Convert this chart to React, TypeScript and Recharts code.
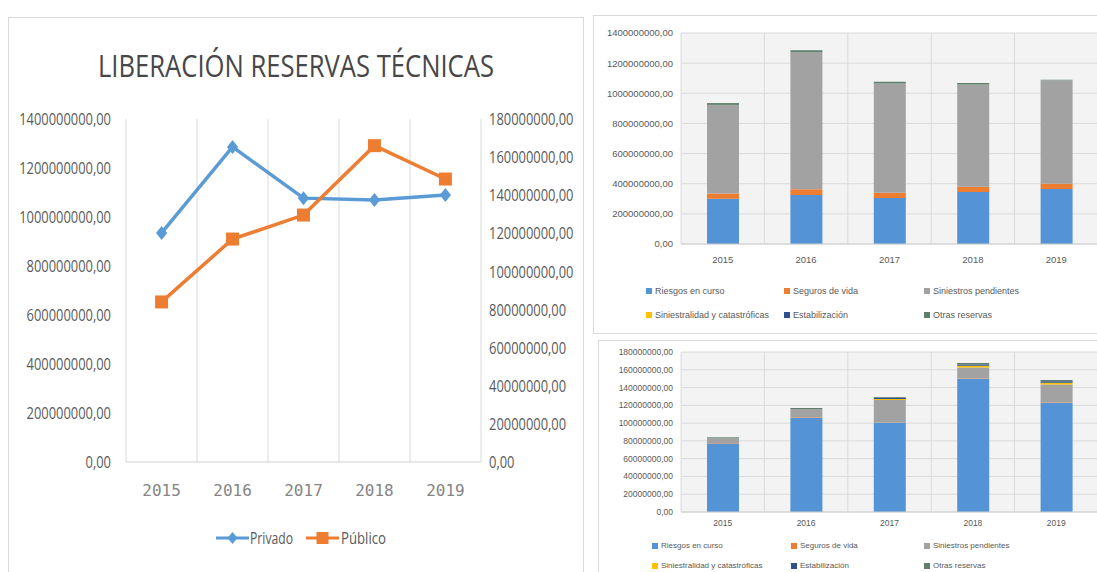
import React from "react";
import {
  LineChart,
  Line,
  BarChart,
  Bar,
  XAxis,
  YAxis,
  CartesianGrid,
} from "recharts";

const years = ["2015", "2016", "2017", "2018", "2019"];

// line chart, left axis (privado) and right axis (publico)
const privado = [935e6, 1286e6, 1077e6, 1069e6, 1090e6];
const publico = [84e6, 117e6, 129.6e6, 166e6, 148.5e6];
const leftTicks = [0, 200e6, 400e6, 600e6, 800e6, 1000e6, 1200e6, 1400e6];
const rightTicks = [0, 20e6, 40e6, 60e6, 80e6, 100e6, 120e6, 140e6, 160e6, 180e6];

// stacked bars, sector privado
const riesgosPriv = [300e6, 325e6, 305e6, 345e6, 365e6];
const segurosPriv = [35e6, 38e6, 35e6, 35e6, 35e6];
const siniestrosPriv = [588e6, 910e6, 725e6, 678e6, 686e6];
const catastPriv = [0, 0, 0, 0, 0];
const estabPriv = [0, 0, 0, 0, 0];
const otrasPriv = [12e6, 13e6, 12e6, 11e6, 4e6];

// stacked bars, sector publico
const riesgosPub = [77e6, 106e6, 100e6, 150e6, 123e6];
const segurosPub = [0.5e6, 0.5e6, 0.5e6, 0.5e6, 0.5e6];
const siniestrosPub = [5.5e6, 9.5e6, 25.5e6, 12e6, 20e6];
const catastPub = [0, 0, 1e6, 2e6, 2e6];
const estabPub = [0, 0, 1.5e6, 1.5e6, 1.5e6];
const otrasPub = [1e6, 1e6, 1e6, 1.5e6, 1.5e6];

const stackNames = [
  "Riesgos en curso",
  "Seguros de vida",
  "Siniestros pendientes",
  "Siniestralidad y catastróficas",
  "Estabilización",
  "Otras reservas",
];
const stackKeys = ["riesgos", "seguros", "siniestros", "catast", "estab", "otras"];
const stackColors = ["#5593d7", "#ED7D31", "#a2a2a2", "#FFC000", "#2f4f8f", "#5e7f6b"];

const lineData = years.map((y, i) => ({ year: y, privado: privado[i], publico: publico[i] }));

const makeStack = (arrs: number[][]) =>
  years.map((y, i) => {
    const row: any = { year: y };
    stackKeys.forEach((k, j) => (row[k] = arrs[j][i]));
    return row;
  });

const privData = makeStack([riesgosPriv, segurosPriv, siniestrosPriv, catastPriv, estabPriv, otrasPriv]);
const pubData = makeStack([riesgosPub, segurosPub, siniestrosPub, catastPub, estabPub, otrasPub]);

const fmt = (v: number) => v.toFixed(2).replace(".", ",");

const sans = "'Open Sans', sans-serif";
const textGray = "#595959";

const bandLines = ({ offset }: any) => {
  const step = offset.width / years.length;
  return Array.from({ length: years.length + 1 }, (_, i) => offset.left + i * step);
};

// condensed look: squeeze the glyphs horizontally
const NarrowTick = (p: any) => {
  const { x, y, payload, anchor } = p;
  return (
    <g transform={`translate(${x},${y}) scale(0.76,1)`}>
      <text x={0} y={0} dy="0.36em" textAnchor={anchor} fill={textGray} fontSize={17} fontFamily={sans}>
        {fmt(payload.value)}
      </text>
    </g>
  );
};

const Diamond = (p: any) => {
  const { cx, cy, index } = p;
  if (cx == null || cy == null) return <g key={"d" + index} />;
  const s = 7;
  return (
    <path
      key={"d" + index}
      d={`M${cx},${cy - s} L${cx + s * 0.8},${cy} L${cx},${cy + s} L${cx - s * 0.8},${cy} Z`}
      fill="#5B9BD5"
    />
  );
};

const Square = (p: any) => {
  const { cx, cy, index } = p;
  if (cx == null || cy == null) return <g key={"s" + index} />;
  return <rect key={"s" + index} x={cx - 6.5} y={cy - 6.5} width={13} height={13} fill="#ED7D31" />;
};

const StackLegend = ({ cols, fontSize, rowGap }: any) => (
  <div
    style={{
      display: "grid",
      gridTemplateColumns: cols,
      rowGap,
      fontFamily: "'Liberation Sans', sans-serif",
      fontSize,
      color: textGray,
    }}
  >
    {stackNames.map((n, i) => (
      <div key={n} style={{ display: "flex", alignItems: "center", whiteSpace: "nowrap" }}>
        <span style={{ display: "inline-block", width: 6, height: 6, background: stackColors[i], marginRight: 3 }} />
        {n}
      </div>
    ))}
  </div>
);

const panel: React.CSSProperties = {
  position: "absolute",
  border: "1px solid #d9d9d9",
  background: "#fff",
  boxSizing: "border-box",
};

const StackChart = ({ data, width, height, margin, ticks, tickSize, xMargin, legendTop, legendLeft, legendFont, rowGap, cols }: any) => (
  <div style={{ position: "relative", width, height }}>
    <BarChart width={width} height={height} data={data} margin={margin} barSize={32}>
      <CartesianGrid fill="#f3f3f3" stroke="#dadada" verticalCoordinatesGenerator={bandLines} />
      <XAxis
        dataKey="year"
        axisLine={{ stroke: "#cfcfcf" }}
        tickLine={false}
        tick={{ fontSize: tickSize, fill: textGray, fontFamily: "'Liberation Sans', sans-serif" }}
        tickMargin={xMargin}
      />
      <YAxis
        domain={[ticks[0], ticks[ticks.length - 1]]}
        ticks={ticks}
        tickFormatter={fmt}
        axisLine={false}
        tickLine={false}
        width={margin.yw}
        interval={0}
        tick={{ fontSize: tickSize, fill: textGray, fontFamily: "'Liberation Sans', sans-serif" }}
        tickMargin={2}
      />
      {stackKeys.map((k, i) => (
        <Bar key={k} dataKey={k} stackId="a" fill={stackColors[i]} name={stackNames[i]} isAnimationActive={false} />
      ))}
    </BarChart>
    <div style={{ position: "absolute", left: legendLeft, top: legendTop, width: width - legendLeft - 10 }}>
      <StackLegend cols={cols} fontSize={legendFont} rowGap={rowGap} />
    </div>
  </div>
);

export default function App() {
  return (
    <div style={{ position: "absolute", left: 0, top: 0, width: 1097, height: 572, background: "#fff", overflow: "hidden" }}>
      {/* left: line chart */}
      <div style={{ ...panel, left: 8, top: 17, width: 576, height: 556 }}>
        <svg width={574} height={554} style={{ position: "absolute", left: 0, top: 0 }}>
          <text x={287} y={59} textAnchor="middle" fontFamily={sans} fontSize={31} fill="#474747" textLength={396} lengthAdjust="spacingAndGlyphs">
            LIBERACIÓN  RESERVAS  TÉCNICAS
          </text>
          <line x1={207} y1={520} x2={240} y2={520} stroke="#5B9BD5" strokeWidth={3} />
          <path d="M223.5,514 L228.5,520 L223.5,526 L218.5,520 Z" fill="#5B9BD5" />
          <text x={241} y={526} fontFamily={sans} fontSize={17} fill={textGray} textLength={43} lengthAdjust="spacingAndGlyphs">Privado</text>
          <line x1={297} y1={520} x2={330} y2={520} stroke="#ED7D31" strokeWidth={3} />
          <rect x={307.5} y={514} width={12} height={12} fill="#ED7D31" />
          <text x={332} y={526} fontFamily={sans} fontSize={17} fill={textGray} textLength={45} lengthAdjust="spacingAndGlyphs">Público</text>
        </svg>
        <div style={{ position: "absolute", left: 0, top: 0 }}>
          <LineChart width={574} height={554} data={lineData} margin={{ top: 101, right: 0, left: 0, bottom: 50 }}>
            <CartesianGrid horizontal={false} stroke="#d9d9d9" verticalCoordinatesGenerator={bandLines} />
            <XAxis
              dataKey="year"
              axisLine={{ stroke: "#d0d0d0" }}
              tickLine={false}
              height={60}
              padding={{ left: 35.6, right: 35.6 }}
              tickMargin={17}
              tick={{ fontSize: 16, fill: "#858585", fontFamily: "'DejaVu Sans Mono', monospace" }}
            />
            <YAxis
              yAxisId="l"
              width={117}
              domain={[0, 1400e6]}
              ticks={leftTicks}
              axisLine={false}
              tickLine={false}
              tickMargin={9}
              tick={(p: any) => <NarrowTick {...p} anchor="end" />}
            />
            <YAxis
              yAxisId="r"
              orientation="right"
              width={102}
              domain={[0, 180e6]}
              ticks={rightTicks}
              axisLine={false}
              tickLine={false}
              tickMargin={2}
              tick={(p: any) => <NarrowTick {...p} anchor="start" />}
            />
            <Line yAxisId="l" dataKey="privado" name="Privado" stroke="#5B9BD5" strokeWidth={3.5} dot={Diamond} isAnimationActive={false} />
            <Line yAxisId="r" dataKey="publico" name="Público" stroke="#ED7D31" strokeWidth={3.5} dot={Square} isAnimationActive={false} />
          </LineChart>
        </div>
      </div>

      {/* top right: stacked bars privado */}
      <div style={{ ...panel, left: 593, top: 15, width: 510, height: 319 }}>
        <StackChart
          data={privData}
          width={508}
          height={317}
          margin={{ top: 17, right: 4, left: 0, bottom: 59, yw: 87 }}
          ticks={leftTicks}
          tickSize={9.5}
          xMargin={6}
          legendTop={270}
          legendLeft={52}
          legendFont={9}
          rowGap={14}
          cols="138px 140px 150px"
        />
      </div>

      {/* bottom right: stacked bars publico */}
      <div style={{ ...panel, left: 598, top: 340, width: 505, height: 240 }}>
        <StackChart
          data={pubData}
          width={503}
          height={238}
          margin={{ top: 11, right: 4, left: 0, bottom: 37, yw: 82 }}
          ticks={rightTicks}
          tickSize={8.5}
          xMargin={2}
          legendTop={200}
          legendLeft={53}
          legendFont={8}
          rowGap={11}
          cols="139px 133px 150px"
        />
      </div>
    </div>
  );
}
